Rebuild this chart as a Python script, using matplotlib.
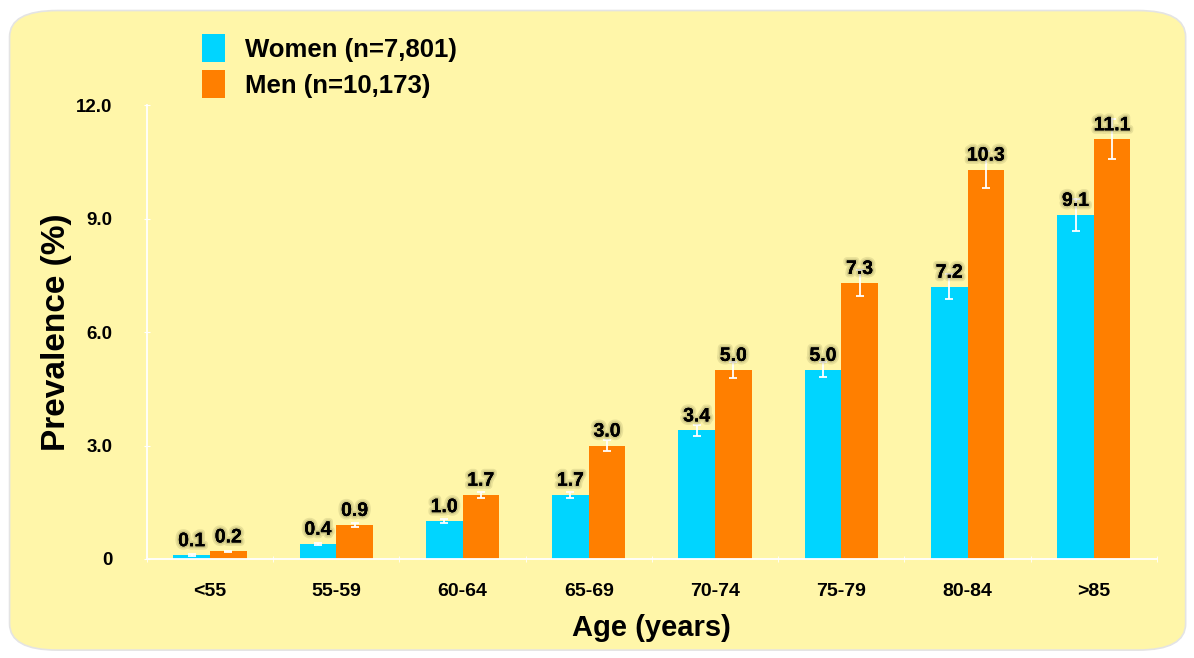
import matplotlib.pyplot as plt
import numpy as np
from matplotlib.patches import FancyBboxPatch
import matplotlib.patheffects as pe

plt.rcParams['font.family'] = ['Liberation Sans', 'DejaVu Sans']
plt.rcParams['font.weight'] = 'bold'

# Data
ages = ['<55', '55-59', '60-64', '65-69', '70-74', '75-79', '80-84', '>85']
women = [0.1, 0.4, 1.0, 1.7, 3.4, 5.0, 7.2, 9.1]
men = [0.2, 0.9, 1.7, 3.0, 5.0, 7.3, 10.3, 11.1]
women_err = [0.02, 0.03, 0.05, 0.08, 0.15, 0.2, 0.33, 0.43]
men_err = [0.02, 0.05, 0.08, 0.15, 0.22, 0.34, 0.48, 0.53]
yticks = [0, 3, 6, 9, 12]
yticklabels = ['0', '3.0', '6.0', '9.0', '12.0']

bg = '#FFF6A9'
c_women = '#00D5FF'
c_men = '#FF7F00'

fig = plt.figure(figsize=(11.94, 6.58), dpi=100)
fig.patch.set_facecolor('white')

# rounded yellow panel
panel = FancyBboxPatch((0.008, 0.012), 0.985, 0.972,
                       boxstyle='round,pad=0,rounding_size=0.04',
                       transform=fig.transFigure, facecolor=bg,
                       edgecolor='#e4e4e4', linewidth=1.2, zorder=-10)
fig.patches.append(panel)

ax = fig.add_axes([0.123, 0.1505, 0.846, 0.6895])
ax.set_facecolor('none')

x = np.arange(len(ages))
w = 0.29
ax.bar(x - w / 2, women, w, color=c_women, label='Women (n=7,801)', zorder=2)
ax.bar(x + w / 2, men, w, color=c_men, label='Men (n=10,173)', zorder=2)
ax.errorbar(x - w / 2, women, yerr=women_err, fmt='none', ecolor='white',
            elinewidth=1.3, capsize=3, capthick=1.3, zorder=3)
ax.errorbar(x + w / 2, men, yerr=men_err, fmt='none', ecolor='white',
            elinewidth=1.3, capsize=3, capthick=1.3, zorder=3)

# value labels with a soft dark halo
glow = [pe.withStroke(linewidth=5, foreground='#6e6a3c', alpha=0.15),
        pe.withStroke(linewidth=2.5, foreground='#6e6a3c', alpha=0.2),
        pe.Normal()]
for xs, vals in [(x - w / 2, women), (x + w / 2, men)]:
    for xi, v in zip(xs, vals):
        ax.annotate(f'{v:.1f}', (xi, v), xytext=(0, 6.5), textcoords='offset points',
                    ha='center', va='baseline', fontsize=14, fontweight='bold',
                    path_effects=glow, zorder=4)

ax.set_xlim(-0.5, len(ages) - 0.5)
ax.set_ylim(0, 12)
ax.set_yticks(yticks)
ax.set_yticklabels(yticklabels, fontsize=13.5, fontweight='bold')
ax.set_xticks(x)
ax.set_xticklabels(ages, fontsize=14, fontweight='bold')
ax.set_xticks(np.arange(len(ages) + 1) - 0.5, minor=True)
ax.tick_params(axis='x', which='major', length=0, pad=17)
ax.tick_params(axis='x', which='minor', length=4, direction='inout', color='white')
ax.tick_params(axis='y', length=4, direction='inout', color='white', pad=23)

for s in ['top', 'right']:
    ax.spines[s].set_visible(False)
for s in ['left', 'bottom']:
    ax.spines[s].set_color('white')
    ax.spines[s].set_linewidth(1.3)

ax.set_ylabel('Prevalence (%)', fontsize=24, fontweight='bold', va='center')
ax.yaxis.set_label_coords(-0.089, 0.5)
ax.set_xlabel('Age (years)', fontsize=21, fontweight='bold', va='center')
ax.xaxis.set_label_coords(0.5, -0.152)

leg = fig.legend(loc='upper left', bbox_to_anchor=(0.15, 0.983), frameon=False,
                 fontsize=18.5, handlelength=0.9, handleheight=1.3,
                 handletextpad=0.75, labelspacing=0.3)
for t in leg.get_texts():
    t.set_fontweight('bold')

fig.savefig('out.png', dpi=100, facecolor='white')
